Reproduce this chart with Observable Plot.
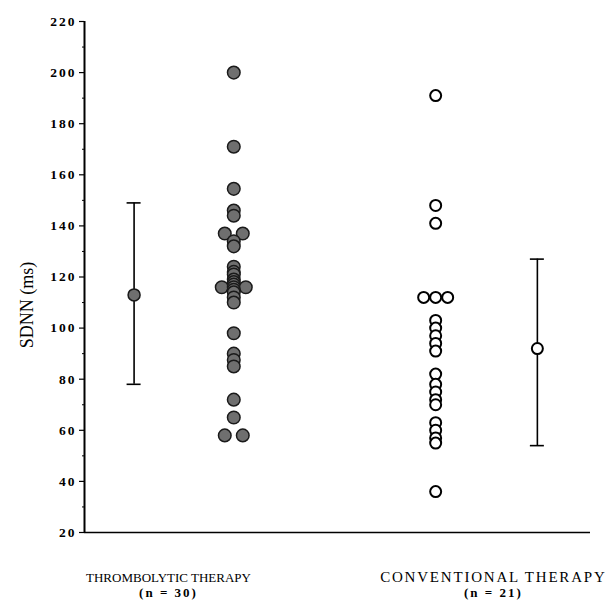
<!DOCTYPE html>
<html>
<head>
<meta charset="utf-8">
<script src="https://cdn.jsdelivr.net/npm/d3@7"></script>
<script src="https://cdn.jsdelivr.net/npm/@observablehq/plot@0.6"></script>
<style>
  html, body { margin: 0; padding: 0; background: #fff; }
  #chart { width: 612px; height: 606px; }
</style>
</head>
<body>
<div id="chart"></div>
<script>
// ---- data ----
const groups = ["THROMBOLYTIC THERAPY", "CONVENTIONAL THERAPY"];
const groupN = [30, 21];
const thrombolytic = [200, 171, 154.5, 146, 144, 137, 137, 134, 132,
  124, 122, 121, 119, 118, 117, 116, 116, 116, 115, 114, 112, 110,
  98, 90, 87.5, 85, 72, 65, 58, 58];
const conventional = [191, 148, 141, 112, 112, 112, 103, 100, 97, 94, 91,
  82, 78, 75, 72, 70, 63, 60, 57, 55, 36];
const groupMean = [113, 92];
const groupLow = [78, 54];
const groupHigh = [149, 127];
const yTicks = [20, 40, 60, 80, 100, 120, 140, 160, 180, 200, 220];

// ---- layout (x in 0..1 across the plot frame) ----
const plotW = 612 - 84 - 22;
const pointX = [0.295, 0.694];
const barX = [0.098, 0.895];
const labelX = [0.166, 0.808];
const px = v => v / plotW;

function spread(values, g) {
  const counts = d3.rollup(values, v => v.length, d => d);
  const seen = new Map();
  return values.map(v => {
    const k = counts.get(v);
    const i = seen.get(v) || 0;
    seen.set(v, i + 1);
    const gap = k === 2 ? 18 : 12;
    return {group: groups[g], value: v, x: pointX[g] + px((i - (k - 1) / 2) * gap)};
  });
}
const ptsT = spread(thrombolytic, 0);
const ptsC = spread(conventional, 1);
const summary = groups.map((g, i) => ({group: g, x: barX[i], mean: groupMean[i], low: groupLow[i], high: groupHigh[i]}));
const labels = groups.map((g, i) => ({x: labelX[i], line1: g, line2: `(n = ${groupN[i]})`}));

const chart = Plot.plot({
  width: 612,
  height: 606,
  marginLeft: 84,
  marginRight: 22,
  marginTop: 21,
  marginBottom: 74,
  style: {fontFamily: "'Liberation Serif', 'DejaVu Serif', serif", background: "#fff", color: "#000"},
  x: {domain: [0, 1], axis: null},
  y: {domain: [20, 220], axis: null},
  marks: [
    Plot.axisY({ticks: yTicks, tickSize: 5, tickPadding: 3, fontSize: 13, fontWeight: "bold", label: null, stroke: "#000", strokeWidth: 1.2, fill: "#000"}),
    Plot.axisY({ticks: d3.range(30, 220, 20), tickSize: 2, tickFormat: () => "", label: null, stroke: "#000"}),
    Plot.ruleX([0], {stroke: "#000", strokeWidth: 2}),
    Plot.ruleY([20], {stroke: "#000", strokeWidth: 1.6}),
    Plot.text(["SDNN (ms)"], {x: 0, y: 109, dx: -57, rotate: -90, fontSize: 18, fill: "#000"}),
    // error bars
    Plot.ruleX(summary, {x: "x", y1: "low", y2: "high", stroke: "#000", strokeWidth: 1.6}),
    Plot.ruleY(summary, {x1: d => d.x - px(7), x2: d => d.x + px(7), y: "low", stroke: "#000", strokeWidth: 1.6}),
    Plot.ruleY(summary, {x1: d => d.x - px(7), x2: d => d.x + px(7), y: "high", stroke: "#000", strokeWidth: 1.6}),
    Plot.dot(summary.slice(0, 1), {x: "x", y: "mean", r: 6, fill: "#6f6f6f", stroke: "#1a1a1a", strokeWidth: 1.5}),
    Plot.dot(summary.slice(1), {x: "x", y: "mean", r: 5.5, fill: "#fff", stroke: "#000", strokeWidth: 2}),
    // individual points
    Plot.dot(ptsT, {x: "x", y: "value", r: 6.3, fill: "#6f6f6f", stroke: "#1a1a1a", strokeWidth: 1.5}),
    Plot.dot(ptsC, {x: "x", y: "value", r: 5.5, fill: "#fff", stroke: "#000", strokeWidth: 2}),
    // category labels
    Plot.text(labels, {x: "x", y: 20, dy: 45, text: "line1", fontSize: 13, fill: "#000"}),
    Plot.text(labels, {x: "x", y: 20, dy: 60, text: "line2", fontSize: 13, fontWeight: "bold", fill: "#000"})
  ]
});
// typographic tweaks to match the reference's typesetting
d3.select(chart).selectAll("text").each(function() {
  const t = this.textContent.trim();
  const s = d3.select(this);
  if (/^\d+$/.test(t)) {
    s.style("font-size", "13.5px").style("font-weight", "bold").style("letter-spacing", "2px");
  } else if (t === groups[1]) {
    s.style("font-size", "15px").style("letter-spacing", "1.8px");
  } else if (t.startsWith("(n =")) {
    s.style("letter-spacing", "2px");
  }
});
document.getElementById("chart").appendChild(chart);
</script>
</body>
</html>
